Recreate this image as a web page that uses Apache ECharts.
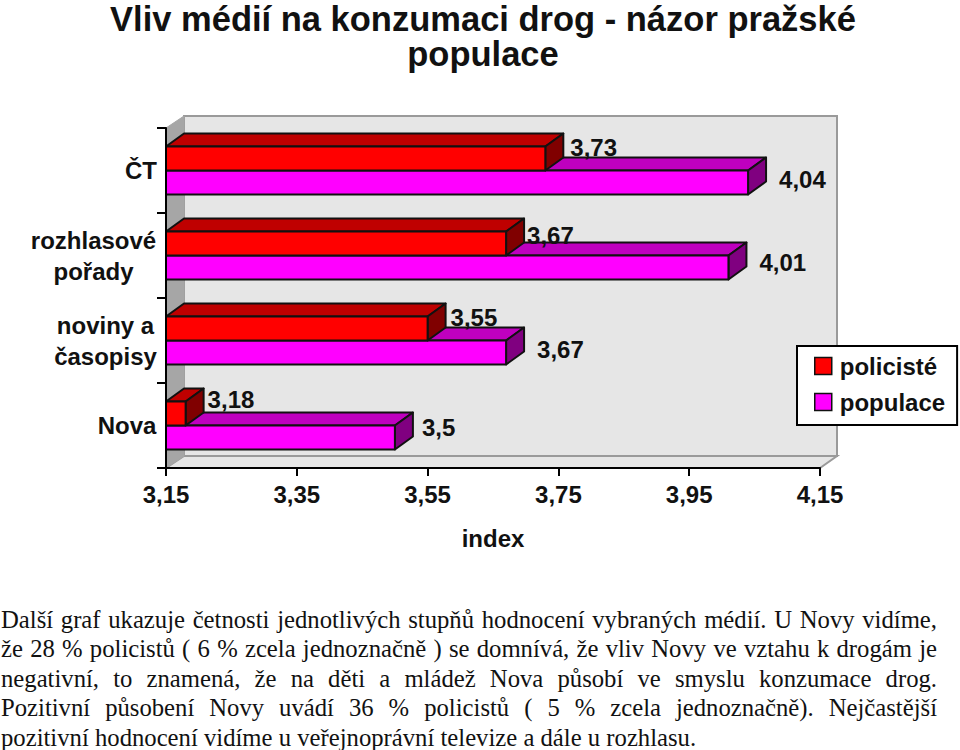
<!DOCTYPE html>
<html>
<head>
<meta charset="utf-8">
<script src="https://cdn.jsdelivr.net/npm/echarts@6/dist/echarts.min.js"></script>
<style>
  html, body { margin: 0; padding: 0; background: #fff; }
  #chart { position: absolute; left: 0; top: 0; width: 960px; height: 750px; }
  #text {
    position: absolute; left: 1px; top: 605px; width: 936px;
    font-family: "Liberation Serif", serif; font-size: 24.7px; line-height: 29.4px; color: #111;
  }
  #text div { text-align: justify; text-align-last: justify; white-space: nowrap; }
  #text div.end { text-align-last: left; }
</style>
</head>
<body>
<div id="chart"></div>
<div id="text"></div>
<script>
const categories = ['Nova', 'noviny a\nčasopisy', 'rozhlasové\npořady', 'ČT']
const policiste = [3.18, 3.55, 3.67, 3.73]
const populace = [3.5, 3.67, 4.01, 4.04]
const xTicks = [3.15, 3.35, 3.55, 3.75, 3.95, 4.15]
const titleLines = ['Vliv médií na konzumaci drog - názor pražské', 'populace']
const paragraph = [
  'Další graf ukazuje četnosti jednotlivých stupňů hodnocení vybraných médií. U Novy vidíme,',
  'že 28 % policistů ( 6 % zcela jednoznačně ) se domnívá, že vliv Novy ve vztahu k drogám je',
  'negativní, to znamená, že na děti a mládež Nova působí ve smyslu  konzumace drog.',
  'Pozitivní působení Novy uvádí  36 %  policistů ( 5 % zcela jednoznačně). Nejčastější',
  'pozitivní hodnocení vidíme u veřejnoprávní televize a dále u rozhlasu.'
]

const depthX = 18
const depthY = 13
const barHeight = 24
const sans = '"Liberation Sans", Arial, sans-serif'
const labelFont = { fontFamily: sans, fontSize: 24, fontWeight: 'bold', color: '#111' }
const titleFont = { fontFamily: sans, fontSize: 34.5, fontWeight: 'bold', color: '#111' }

paragraph.forEach((line, i) => {
  const el = document.createElement('div')
  el.textContent = line
  if (i === paragraph.length - 1) el.className = 'end'
  document.getElementById('text').appendChild(el)
})

function poly(points, fill) {
  return {
    type: 'polygon',
    shape: { points },
    style: { fill, stroke: '#111', lineWidth: 2, lineJoin: 'round' }
  }
}

// one 3D bar: front face, top face, end face
function renderBar(colors, side) {
  return function (params, api) {
    const end = api.coord([api.value(0), api.value(1)])
    const start = api.coord([xTicks[0], api.value(1)])
    const top = side < 0 ? end[1] - barHeight : end[1]
    const bottom = top + barHeight
    const x0 = start[0]
    const x1 = end[0]
    return {
      type: 'group',
      children: [
        poly([[x0, top], [x0 + depthX, top - depthY], [x1 + depthX, top - depthY], [x1, top]], colors[1]),
        poly([[x1, top], [x1 + depthX, top - depthY], [x1 + depthX, bottom - depthY], [x1, bottom]], colors[2]),
        poly([[x0, top], [x1, top], [x1, bottom], [x0, bottom]], colors[0])
      ]
    }
  }
}

function renderWalls(params) {
  const c = params.coordSys
  const left = c.x
  const right = c.x + c.width
  const top = c.y
  const bottom = c.y + c.height
  const wall = { stroke: '#9a9a9a', lineWidth: 2 }
  return {
    type: 'group',
    children: [
      { type: 'polygon', shape: { points: [[left + depthX, top - 12], [right + depthX - 1, top - 12], [right + depthX - 1, bottom - 12], [left + depthX, bottom - 12]] }, style: { fill: '#e6e6e6', ...wall } },
      { type: 'polygon', shape: { points: [[left, bottom], [left + depthX, bottom - 12], [right + depthX - 1, bottom - 12], [right, bottom]] }, style: { fill: '#e6e6e6', ...wall } },
      { type: 'polygon', shape: { points: [[left, top], [left + depthX, top - 12], [left + depthX, bottom - 12], [left, bottom]] }, style: { fill: '#a6a6a6', stroke: '#a6a6a6', lineWidth: 1 } }
    ]
  }
}

function labelSeries(name, values, offsets) {
  return {
    name: name + ' popisky',
    type: 'scatter',
    symbolSize: 0,
    silent: true,
    z: 6,
    itemStyle: { opacity: 1 },
    data: values.map((v, i) => ({
      value: [v, i],
      label: {
        show: true,
        formatter: String(v).replace('.', ','),
        position: 'right',
        distance: 0,
        offset: offsets[i],
        opacity: 1,
        ...labelFont
      }
    }))
  }
}

const chart = echarts.init(document.getElementById('chart'), null, { renderer: 'svg' })
chart.setOption({
  animation: false,
  backgroundColor: '#fff',
  title: {
    text: `{a|${titleLines[0]}}\n{b|${titleLines[1]}}`,
    left: 483,
    top: 0,
    padding: 0,
    textAlign: 'center',
    textStyle: {
      ...titleFont,
      rich: {
        a: { ...titleFont, lineHeight: 37 },
        b: { ...titleFont, lineHeight: 33 }
      }
    }
  },
  grid: { left: 166, right: 140, top: 128, bottom: 282 },
  xAxis: {
    type: 'value',
    min: 3.15,
    max: 4.15,
    interval: 0.2,
    z: 5,
    name: 'index',
    nameLocation: 'middle',
    nameGap: 58,
    nameTextStyle: labelFont,
    axisLine: { show: true, onZero: false, lineStyle: { color: '#000', width: 2 } },
    axisTick: { show: true, length: 8, lineStyle: { color: '#000', width: 2 } },
    axisLabel: {
      margin: 14,
      ...labelFont,
      formatter: v => v.toFixed(2).replace('.', ',')
    },
    splitLine: { show: false }
  },
  yAxis: {
    type: 'category',
    data: categories,
    z: 5,
    axisLine: { show: true, onZero: false, lineStyle: { color: '#000', width: 2 } },
    axisTick: { show: true, length: 9, alignWithLabel: false, lineStyle: { color: '#000', width: 2 } },
    axisLabel: {
      margin: 9,
      // lines are centred inside a right-aligned block
      formatter: (v, i) => v.split('\n').map(s => `{c${i}|${s}}`).join('\n'),
      rich: {
        c0: { width: 60, align: 'center', lineHeight: 31, ...labelFont },
        c1: { width: 103, align: 'center', lineHeight: 31, ...labelFont },
        c2: { width: 127, align: 'center', lineHeight: 31, ...labelFont },
        c3: { width: 32, align: 'center', lineHeight: 31, ...labelFont }
      }
    },
    splitLine: { show: false }
  },
  legend: {
    left: 797,
    top: 346,
    orient: 'vertical',
    icon: 'rect',
    itemWidth: 17,
    itemHeight: 17,
    itemGap: 12,
    padding: [8, 12, 11, 17],
    backgroundColor: '#fff',
    borderColor: '#000',
    borderWidth: 2,
    borderRadius: 0,
    data: [
      { name: 'policisté', itemStyle: { color: '#ff0000', borderColor: '#111', borderWidth: 1.5 } },
      { name: 'populace', itemStyle: { color: '#ff00ff', borderColor: '#111', borderWidth: 1.5 } }
    ],
    textStyle: { ...labelFont, padding: [0, 0, 0, 3] }
  },
  series: [
    {
      name: 'stěny',
      type: 'custom',
      silent: true,
      z: 1,
      data: [[xTicks[0], 0]],
      encode: { x: 0, y: 1 },
      renderItem: renderWalls
    },
    {
      name: 'populace',
      type: 'custom',
      z: 3,
      itemStyle: { color: '#ff00ff' },
      data: populace.map((v, i) => [v, i]),
      encode: { x: 0, y: 1 },
      renderItem: renderBar(['#ff00ff', '#bf00bf', '#800080'], 1)
    },
    {
      name: 'policisté',
      type: 'custom',
      z: 4,
      itemStyle: { color: '#ff0000' },
      data: policiste.map((v, i) => [v, i]),
      encode: { x: 0, y: 1 },
      renderItem: renderBar(['#ff0000', '#bf0000', '#800000'], -1)
    },
    labelSeries('policisté', policiste, [[22, -26], [23, -23], [21, -20], [25, -23]]),
    labelSeries('populace', populace, [[27, 2], [31, 9], [31, 7], [31, 9]])
  ]
})
</script>
</body>
</html>
